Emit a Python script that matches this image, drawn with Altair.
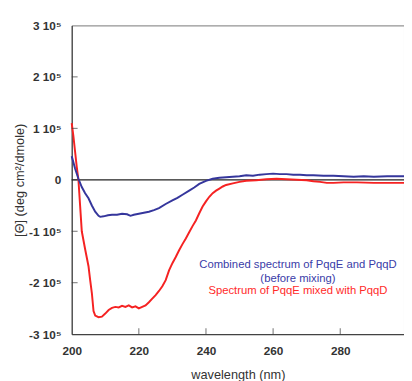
import altair as alt
import pandas as pd

# wavelength (nm) and mean residue ellipticity (deg cm2/dmole)
blue_nm = [200, 201, 202, 203, 204, 205, 206, 207, 208, 208.5, 209.5, 210.8, 212, 213.5, 215,
           216.5, 217.5, 218.5, 220, 221.5, 223, 224.5, 226, 228, 230, 231.5, 233, 235, 236.5,
           238, 240, 242, 244, 246, 248, 250, 252, 254, 256, 258, 260, 262, 264, 266, 268,
           270, 272, 275, 278, 281, 284, 287, 290, 294, 299]
blue_val = [46000, 22000, 2000, -14000, -26000, -36000, -50000, -62000, -70000, -72000, -71000,
            -69000, -68000, -68000, -66000, -67000, -70000, -68000, -66000, -64000, -62000,
            -59000, -55000, -47000, -40000, -35000, -29000, -21000, -15000, -8000, -2000,
            2000, 4000, 5000, 6000, 7000, 9000, 8000, 10000, 11000, 12000, 11000, 11000,
            10000, 10000, 9000, 9000, 8000, 8000, 7000, 6000, 7000, 6000, 7000, 7000]

red_nm = [200, 200.5, 201, 201.5, 202, 202.5, 203, 204, 205, 205.5, 206, 206.5, 207, 208, 209,
          210, 211, 212, 213, 214, 215, 216, 217, 218, 219, 220, 221, 222, 223, 224, 225, 226,
          227, 228, 229, 230, 231, 232, 233, 234, 235, 236, 237, 238, 239, 240, 241, 242, 243,
          244, 245, 246, 248, 250, 252, 255, 258, 261, 264, 267, 270, 272, 274, 276, 278, 281,
          285, 290, 295, 299]
red_val = [110000, 85000, 55000, 25000, 0, -50000, -100000, -135000, -168000, -195000, -220000,
           -255000, -264000, -267000, -266000, -260000, -253000, -249000, -247000, -248000,
           -245000, -247000, -244000, -248000, -246000, -250000, -247000, -244000, -238000,
           -231000, -224000, -216000, -207000, -195000, -176000, -162000, -150000, -137000,
           -125000, -114000, -102000, -90000, -79000, -65000, -52000, -42000, -33000, -26000,
           -21000, -17000, -13000, -10000, -7000, -4000, -2000, -1000, 1000, 2000, 1000, 0,
           -1000, -3000, -4000, -6000, -6000, -5000, -5000, -6000, -6000, -6000]

x_ticks = [200, 220, 240, 260, 280]
y_ticks = [-300000, -200000, -100000, 0, 100000, 200000, 300000]

notes = ["Combined spectrum of PqqE and PqqD", "(before mixing)", "Spectrum of PqqE mixed with PqqD"]
note_nm = [267.4, 267.4, 267.4]
note_val = [-166000, -193000, -217000]
note_series = ["blue", "blue", "red"]

BLUE = "#35369c"
RED = "#f52222"

blue_df = pd.DataFrame({"nm": blue_nm, "val": blue_val})
red_df = pd.DataFrame({"nm": red_nm, "val": red_val})
note_df = pd.DataFrame({"nm": note_nm, "val": note_val, "text": notes, "s": note_series})

xs = alt.Scale(domain=[200, 299], nice=False, zero=False)
ys = alt.Scale(domain=[-300000, 300000], nice=False, zero=False)

x_axis = alt.Axis(values=x_ticks, title="wavelength (nm)", grid=False, tickSize=0,
                  labelPadding=12, titlePadding=12, labelFontWeight="bold", labelFlush=False,
                  labelFontSize=12, titleFontSize=13, titleFontWeight="normal",
                  labelColor="#333", titleColor="#333", domainColor="#333",
                  labelFont="Liberation Sans", titleFont="Liberation Sans")
y_axis = alt.Axis(values=y_ticks, title="[Θ] (deg cm²/dmole)", grid=False, tickSize=0,
                  labelExpr="datum.value == 0 ? '0' : (datum.value / 100000) + ' 10⁵'",
                  labelPadding=11, titlePadding=2, labelFontWeight="bold", labelFlush=False,
                  labelFontSize=12, titleFontSize=13, titleFontWeight="normal",
                  labelColor="#333", titleColor="#333", domainColor="#333",
                  labelFont="Liberation Sans", titleFont="Liberation Sans")

zero = alt.Chart(pd.DataFrame({"v": [0]})).mark_rule(color="#222", strokeWidth=1.2).encode(
    y=alt.Y("v:Q", scale=ys))

red = alt.Chart(red_df).mark_line(color=RED, strokeWidth=2).encode(
    x=alt.X("nm:Q", scale=xs, axis=x_axis), y=alt.Y("val:Q", scale=ys, axis=y_axis))
blue = alt.Chart(blue_df).mark_line(color=BLUE, strokeWidth=2).encode(
    x=alt.X("nm:Q", scale=xs), y=alt.Y("val:Q", scale=ys))

yt = alt.Chart(pd.DataFrame({"v": y_ticks[1:-1]})).mark_tick(
    color="#333", size=6, thickness=1, orient="horizontal").encode(
    y=alt.Y("v:Q", scale=ys), x=alt.value(3))
xt = alt.Chart(pd.DataFrame({"v": x_ticks[1:]})).mark_tick(
    color="#333", size=6, thickness=1, orient="vertical").encode(
    x=alt.X("v:Q", scale=xs), y=alt.value(312))

text = alt.Chart(note_df).mark_text(font="Liberation Sans", fontSize=11.5, align="center",
                                     baseline="middle").encode(
    x=alt.X("nm:Q", scale=xs), y=alt.Y("val:Q", scale=ys), text="text:N",
    color=alt.Color("s:N", scale=alt.Scale(domain=["blue", "red"], range=["#3a3ca8", "#ff2a2a"]),
                    legend=None))

chart = alt.layer(zero, red, blue, yt, xt, text).properties(
    width=339, height=315,
    autosize=alt.AutoSizeParams(type="none"),
    padding={"left": 65, "top": 14, "right": 0, "bottom": 44},
).configure_view(stroke="#777", strokeWidth=1)

chart.save("out.html", embed_options={"renderer": "svg", "actions": False})
